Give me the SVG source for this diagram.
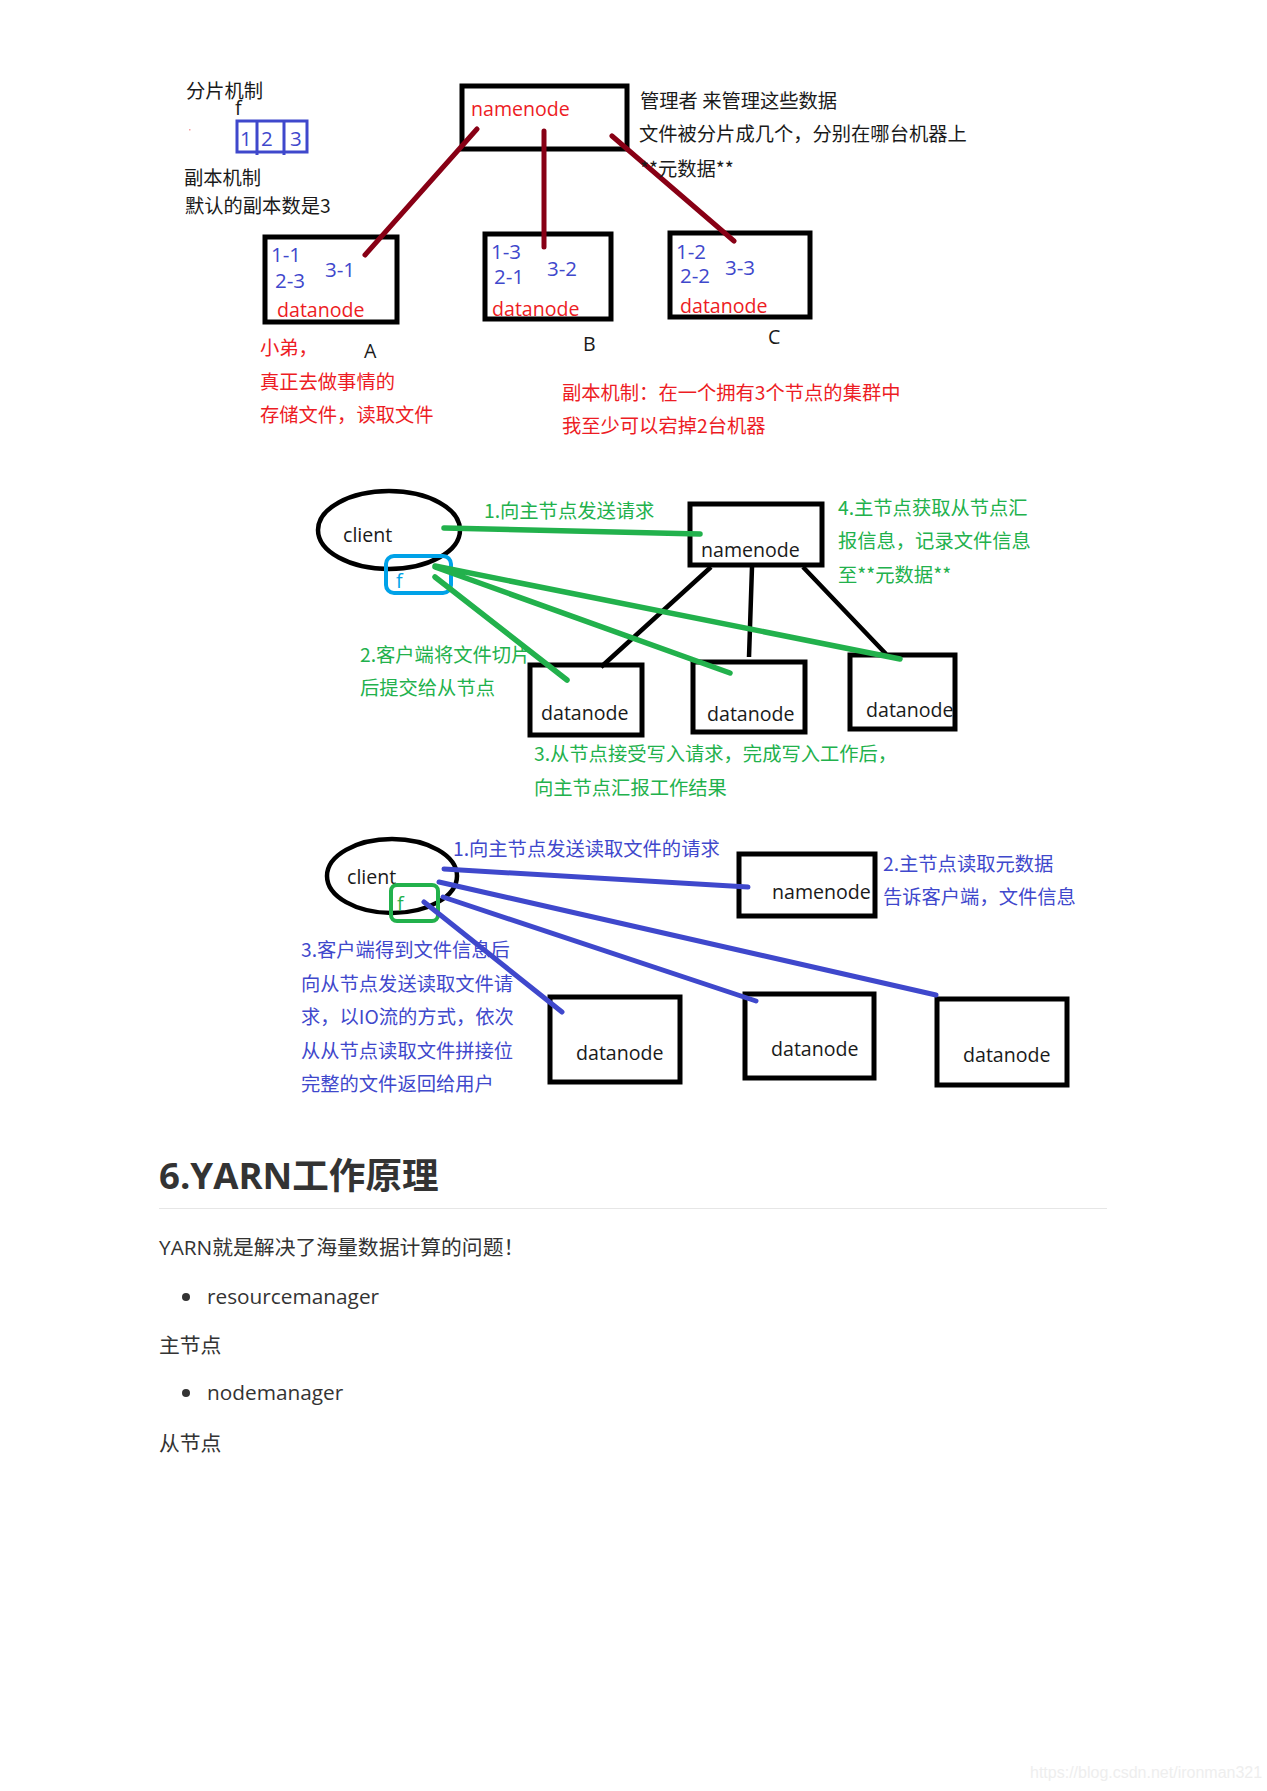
<svg xmlns="http://www.w3.org/2000/svg" width="1267" height="1791" viewBox="0 0 1267 1791">
<style>
text{font-family:"Noto Sans CJK SC","Noto Sans",sans-serif;font-size:19.3px;white-space:pre}
.lat{font-family:"Open Sans","Noto Sans CJK SC",sans-serif;font-size:19.6px}
.num{font-size:20.5px}
.doc{font-size:20.8px}
.box{fill:#fff;stroke:#000;stroke-width:5}
.ell{fill:#fff;stroke:#000;stroke-width:4.5}
.k{fill:#1a1a1a}.r{fill:#ed1c24}.b{fill:#3f48cc}.g{fill:#22b14c}.t{fill:#333}
.dr{stroke:#880015;stroke-width:5;fill:none;stroke-linecap:round}
.gl{stroke:#22b14c;stroke-width:5.5;fill:none;stroke-linecap:round}
.bl{stroke:#3f48cc;stroke-width:5;fill:none;stroke-linecap:round}
.kl{stroke:#000;stroke-width:4.5;fill:none}
</style>
<rect width="1267" height="1791" fill="#fff"/>
<g id="file1">
<rect x="237" y="121" width="70" height="31" fill="none" stroke="#3f48cc" stroke-width="3"/>
<path d="M257 121V155M284 121V155" stroke="#3f48cc" stroke-width="3"/>
<rect x="189" y="129" width="1.5" height="1.5" fill="#f8a0a0"/>
<text class="lat num b" x="240" y="146">1</text><text class="lat num b" x="261" y="146">2</text><text class="lat num b" x="290" y="146">3</text>
<text class="lat k" x="235" y="115">f</text>
</g>
<g id="nn1"><rect class="box" x="462" y="86" width="165" height="63"/><text class="lat r" x="471" y="116">namenode</text></g>
<g id="dnA"><rect class="box" x="265" y="237" width="132" height="85"/><text class="lat r" x="277" y="317">datanode</text>
<text class="lat num b" x="271" y="262">1-1</text><text class="lat num b" x="275" y="288">2-3</text><text class="lat num b" x="325" y="277">3-1</text></g>
<g id="dnB"><rect class="box" x="485" y="234" width="126" height="85"/><text class="lat r" x="492" y="316">datanode</text>
<text class="lat num b" x="491" y="259">1-3</text><text class="lat num b" x="494" y="284">2-1</text><text class="lat num b" x="547" y="276">3-2</text></g>
<g id="dnC"><rect class="box" x="670" y="233" width="140" height="84"/><text class="lat r" x="680" y="313">datanode</text>
<text class="lat num b" x="676" y="259">1-2</text><text class="lat num b" x="680" y="283">2-2</text><text class="lat num b" x="725" y="275">3-3</text></g>
<g id="connectors1">
<path class="dr" d="M477 129L365 255M544 131V247M612 136L734 241"/>
</g>
<g id="labels1">
<text class="k" x="186" y="98">分片机制</text>
<text class="k" x="184" y="185">副本机制</text>
<text class="k" x="185" y="213">默认的副本数是3</text>
<text class="k" x="640" y="108">管理者 来管理这些数据</text>
<text class="k" x="639" y="141">文件被分片成几个，分别在哪台机器上</text>
<text class="k" x="640" y="176">**元数据**</text>
<text class="lat k" x="364" y="358">A</text><text class="lat k" x="583" y="351">B</text><text class="lat k" x="768" y="344">C</text>
<text class="r" x="260" y="355">小弟，</text>
<text class="r" x="260" y="389">真正去做事情的</text>
<text class="r" x="260" y="422">存储文件，读取文件</text>
<text class="r" x="562" y="400">副本机制：在一个拥有3个节点的集群中</text>
<text class="r" x="562" y="433">我至少可以宕掉2台机器</text>
</g>

<g id="client2"><ellipse class="ell" cx="389" cy="530" rx="71" ry="39"/><text class="lat k" x="343" y="542">client</text></g>
<g id="f2"><rect x="386" y="556" width="65" height="37" rx="8" fill="none" stroke="#00a2e8" stroke-width="4"/><text class="lat" fill="#00a2e8" x="396" y="588">f</text></g>
<g id="nn2"><rect class="box" x="690" y="504" width="132" height="61"/><text class="lat k" x="701" y="557">namenode</text></g>
<g id="dn21"><rect class="box" x="530" y="665" width="112" height="70"/><text class="lat k" x="541" y="720">datanode</text></g>
<g id="dn22"><rect class="box" x="693" y="662" width="112" height="70"/><text class="lat k" x="707" y="721">datanode</text></g>
<g id="dn23"><rect class="box" x="850" y="655" width="105" height="74"/><text class="lat k" x="866" y="717">datanode</text></g>
<g id="connectors2">
<path class="kl" d="M711 567L601 667M752 567L749 657M803 567L886 654"/>
<path class="gl" d="M444 528L700 534M435 566L900 659M435 567L730 673M435 577L567 680"/>
</g>
<g id="labels2">
<text class="g" x="484" y="518">1.向主节点发送请求</text>
<text class="g" x="838" y="515">4.主节点获取从节点汇</text>
<text class="g" x="838" y="548">报信息，记录文件信息</text>
<text class="g" x="838" y="582">至**元数据**</text>
<text class="g" x="360" y="662">2.客户端将文件切片</text>
<text class="g" x="360" y="695">后提交给从节点</text>
<text class="g" x="534" y="761">3.从节点接受写入请求，完成写入工作后，</text>
<text class="g" x="534" y="795">向主节点汇报工作结果</text>
</g>

<g id="client3"><ellipse class="ell" cx="392" cy="876" rx="65" ry="37"/><text class="lat k" x="347" y="884">client</text></g>
<g id="f3"><rect x="391" y="885" width="47" height="36" rx="6" fill="none" stroke="#22b14c" stroke-width="4"/><text class="lat g" x="397" y="911">f</text></g>
<g id="nn3"><rect class="box" x="739" y="854" width="136" height="62"/><text class="lat k" x="772" y="899">namenode</text></g>
<g id="dn31"><rect class="box" x="550" y="997" width="130" height="85"/><text class="lat k" x="576" y="1060">datanode</text></g>
<g id="dn32"><rect class="box" x="745" y="994" width="129" height="84"/><text class="lat k" x="771" y="1056">datanode</text></g>
<g id="dn33"><rect class="box" x="937" y="999" width="130" height="86"/><text class="lat k" x="963" y="1062">datanode</text></g>
<g id="connectors3">
<path class="bl" d="M444 869L748 887M439 882L936 995M443 897L756 1001M424 902L562 1012"/>
</g>
<g id="labels3">
<text class="b" x="453" y="856">1.向主节点发送读取文件的请求</text>
<text class="b" x="883" y="871">2.主节点读取元数据</text>
<text class="b" x="883" y="904">告诉客户端，文件信息</text>
<text class="b" x="301" y="957">3.客户端得到文件信息后</text>
<text class="b" x="301" y="991">向从节点发送读取文件请</text>
<text class="b" x="301" y="1024">求，以IO流的方式，依次</text>
<text class="b" x="301" y="1058">从从节点读取文件拼接位</text>
<text class="b" x="301" y="1091">完整的文件返回给用户</text>
</g>

<g id="doc">
<text class="lat t" x="159" y="1189" style="font-size:36.6px;font-weight:700">6.YARN工作原理</text>
<rect x="159" y="1208" width="948" height="1" fill="#e6e6e6"/>
<text class="lat doc t" x="159" y="1255">YARN就是解决了海量数据计算的问题！</text>
<circle cx="186" cy="1297" r="4" fill="#333"/>
<text class="lat doc t" x="207" y="1304">resourcemanager</text>
<text class="lat doc t" x="159" y="1353">主节点</text>
<circle cx="186" cy="1393" r="4" fill="#333"/>
<text class="lat doc t" x="207" y="1400">nodemanager</text>
<text class="lat doc t" x="159" y="1451">从节点</text>
<text x="1030" y="1778" fill="#eeeeee" style="font-family:'Liberation Sans',sans-serif;font-size:16px">https://blog.csdn.net/ironman321</text>
</g>
</svg>
